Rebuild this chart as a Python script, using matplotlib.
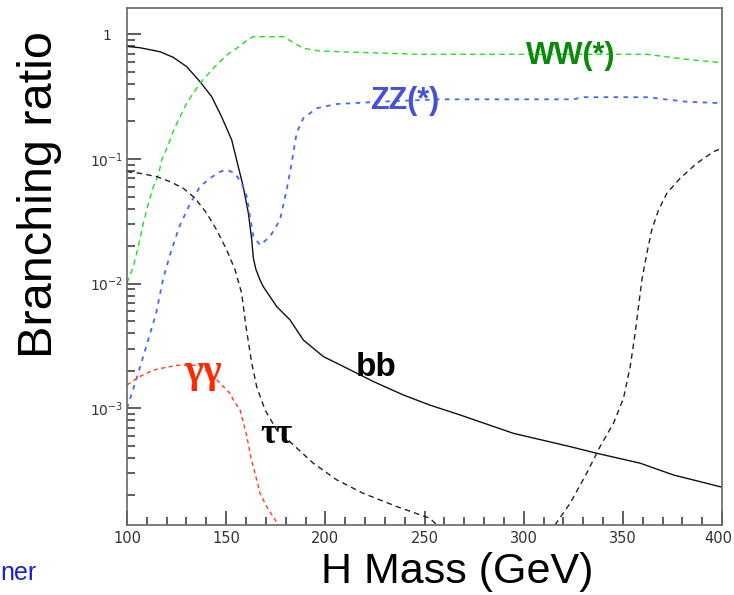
import numpy as np
import matplotlib
matplotlib.use("Agg")
import matplotlib.pyplot as plt
from matplotlib.ticker import FixedLocator, MultipleLocator, LogLocator, FuncFormatter, NullFormatter
from matplotlib.transforms import ScaledTranslation

plt.rcParams['font.family'] = ['Liberation Sans', 'DejaVu Sans']
plt.rcParams['mathtext.fontset'] = 'dejavusans'
plt.rcParams['mathtext.default'] = 'regular'

# Higgs branching ratios vs. mass (GeV)
bb_mass = [100, 106.6, 116.6, 123.3, 130.1, 136.8, 142.7, 147.7, 152.8, 155.3, 158.6,
           161.2, 162.9, 163.7, 165, 167.1, 168.7, 175.5, 182.2, 188.9, 199, 210.8,
           224.2, 239.3, 252.8, 267.9, 294.8, 323.4, 336.8, 358.7, 375.5, 400]
bb_br = [0.80, 0.78, 0.725, 0.654, 0.55, 0.417, 0.316, 0.218, 0.142, 0.098, 0.06,
         0.0367, 0.0224, 0.016, 0.013, 0.0107, 0.00946, 0.00654, 0.00512, 0.00353, 0.0026, 0.0021,
         0.00164, 0.00128, 0.00106, 0.000885, 0.00063, 0.000493, 0.000436, 0.000363, 0.000292, 0.000233]

ww_mass = [100, 103.2, 105.7, 108.2, 110.8, 113.3, 115.8, 117.5, 120.8, 123.3, 125.1,
           130.1, 136.8, 143.5, 150.3, 155.3, 161.2, 163.7, 178.8, 183.9, 188.9, 197.3,
           207.4, 247.7, 362, 382.2, 400]
ww_br = [0.0101, 0.0137, 0.0198, 0.0305, 0.0441, 0.06, 0.0741, 0.098, 0.13, 0.166, 0.193,
         0.28, 0.405, 0.534, 0.682, 0.773, 0.912, 0.957, 0.957, 0.857, 0.773, 0.735,
         0.725, 0.691, 0.691, 0.63, 0.592]

zz_mass = [100, 104.6, 109.7, 114.7, 118.1, 121.4, 126.4, 131.5, 136.8, 141.8, 146.9,
           150.3, 154.5, 157.8, 160.4, 162, 163.7, 167.1, 172.1, 177.1, 180.5, 183,
           185.5, 188.9, 195.6, 205.7, 219.1, 227.6, 257.8, 325, 330, 362, 382.2, 400]
zz_br = [0.001, 0.00169, 0.00313, 0.00579, 0.0107, 0.0165, 0.0287, 0.0428, 0.06, 0.070, 0.079,
         0.0817, 0.0768, 0.0638, 0.0499, 0.0345, 0.0238, 0.0204, 0.0238, 0.0324, 0.0564, 0.0924,
         0.161, 0.212, 0.255, 0.276, 0.283, 0.288, 0.301, 0.301, 0.313, 0.313, 0.288, 0.28]

tautau_mass = [100, 106.6, 115, 121.7, 128.4, 134.3, 140.2, 145.2, 150.3, 154.5, 157.8,
               160, 162.9, 165.4, 169.6, 175.5, 183.9, 193.9, 205.7, 219.1, 236, 252.8, 256.2]
tautau_br = [0.0791, 0.0768, 0.0721, 0.0658, 0.0582, 0.0484, 0.0367, 0.027, 0.0186, 0.0129, 0.00838,
             0.00452, 0.0023, 0.00149, 0.00097, 0.00067, 0.000509, 0.000363, 0.000267, 0.000208,
             0.000163, 0.000131, 0.000116]

gg_mass = [100, 106.6, 111.6, 115, 125.1, 133.4, 136.8, 143.5, 146.9, 151.9, 153.6,
           157, 160.4, 162.5, 165.4, 167.1, 170.4, 176.3]
gg_br = [0.00154, 0.0018, 0.00197, 0.00206, 0.00221, 0.00222, 0.0022, 0.0018, 0.00159, 0.00132, 0.00117,
         0.00097, 0.0006, 0.0004, 0.000267, 0.000208, 0.000163, 0.000116]

tt_mass = [315.8, 323.4, 331.8, 338.5, 345.3, 350.3, 353.7, 356.2, 357.9, 359.6, 362.1,
           364.6, 368, 372.2, 378.9, 387.3, 395.7, 400]
tt_br = [0.000116, 0.000173, 0.000302, 0.000493, 0.00076, 0.0012, 0.00216, 0.0040, 0.00654, 0.0107, 0.0175,
         0.027, 0.039, 0.0531, 0.070, 0.0924, 0.1145, 0.122]

x_major = [100, 150, 200, 250, 300, 350, 400]
y_major = [1e-3, 1e-2, 1e-1, 1]

W, H = 734, 595
fig = plt.figure(figsize=(W / 100, H / 100), dpi=100)
ax = fig.add_axes([127 / W, 1 - 525 / H, (722 - 127) / W, (525 - 8) / H])
ax.set_yscale('log')
ax.set_xlim(100, 400)
ax.set_ylim(10 ** -3.936, 10 ** 0.211)

ax.plot(bb_mass, bb_br, color='#111111', lw=1.0, ls='-')
ax.plot(ww_mass, ww_br, color='#22dd22', lw=1.0, ls=(0, (4, 3)))
ax.plot(zz_mass, zz_br, color='#4466ff', lw=1.3, ls=(0, (2.5, 3)))
ax.plot(tautau_mass, tautau_br, color='#222222', lw=1.0, ls=(0, (4, 3)))
ax.plot(gg_mass, gg_br, color='#ff3a1a', lw=1.0, ls=(0, (3, 2.5)))
ax.plot(tt_mass, tt_br, color='#222222', lw=1.0, ls=(0, (4, 3)))

# curve labels
ax.text(323.9, 0.67, 'WW(*)', color='#0a8a0a', fontsize=22, fontweight='bold', ha='center', va='center')
ax.text(240.2, 0.292, 'ZZ(*)', color='#4650d8', fontsize=22, fontweight='bold', ha='center', va='center')
ax.text(225.5, 0.00211, 'bb', color='black', fontsize=24, fontweight='bold', ha='center', va='center')
ax.text(138.3, 0.00195, 'γγ', color='#ff2a00', fontsize=29, fontweight='bold',
        family=['Liberation Serif', 'DejaVu Serif'], ha='center', va='center')
ax.text(175.1, 0.000622, 'ττ', color='black', fontsize=25, fontweight='bold',
        family=['Liberation Serif', 'DejaVu Serif'], ha='center', va='center')

# axes styling
for s in ax.spines.values():
    s.set_color('#666666')
    s.set_linewidth(1.2)

ax.xaxis.set_major_locator(FixedLocator(x_major))
ax.xaxis.set_minor_locator(MultipleLocator(10))
ax.yaxis.set_major_locator(FixedLocator(y_major))
ax.yaxis.set_minor_locator(LogLocator(base=10, subs=np.arange(2, 10)))
ax.yaxis.set_minor_formatter(NullFormatter())


def ylab(v, pos):
    e = int(round(np.log10(v)))
    if e == 0:
        return '1'
    return r'$10^{%d}$' % e


ax.yaxis.set_major_formatter(FuncFormatter(ylab))
ax.xaxis.set_major_formatter(FuncFormatter(lambda v, p: '%d' % v))

ax.tick_params(axis='both', which='both', direction='in', color='#333333', width=1.1,
               labelcolor='#333333')
ax.tick_params(axis='x', which='major', labelsize=10.5, pad=4.5, labelfontfamily='DejaVu Sans')
ax.tick_params(axis='y', which='major', labelsize=10, pad=3, labelfontfamily='DejaVu Sans')
ax.tick_params(axis='both', which='major', length=10)
ax.tick_params(axis='both', which='minor', length=5.5)

# nudge a few tick labels: the plain "1" sits left of the exponent labels' edge,
# and the last mass label is kept inside the canvas
fig.canvas.draw()
for tick in ax.yaxis.get_major_ticks():
    if abs(tick.get_loc() - 1.0) < 1e-9:
        tick.label1.set_transform(tick.label1.get_transform()
                                  + ScaledTranslation(-12 / 100, 0, fig.dpi_scale_trans))
for tick in ax.xaxis.get_major_ticks():
    if abs(tick.get_loc() - 400) < 1e-9:
        tick.label1.set_transform(tick.label1.get_transform()
                                  + ScaledTranslation(-4 / 100, 0, fig.dpi_scale_trans))

fig.text(40 / W, 1 - 195 / H, 'Branching ratio', rotation=90, fontsize=35,
         ha='center', va='center', color='black')
fig.text(457 / W, 1 - 572 / H, 'H Mass (GeV)', fontsize=31, ha='center', va='center', color='black')
fig.text(0.5 / W, 1 - 573 / H, 'ner', fontsize=18, ha='left', va='center', color='#1a22c8')

fig.savefig('out.png', dpi=100)
